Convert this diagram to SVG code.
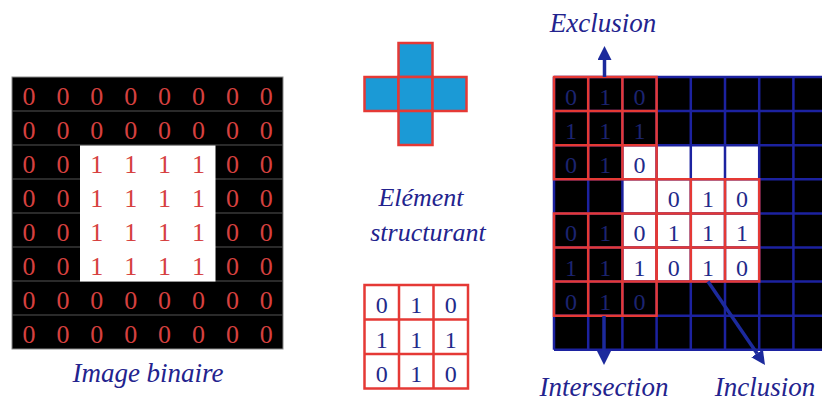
<svg xmlns="http://www.w3.org/2000/svg" width="822" height="403" viewBox="0 0 822 403">
<defs>
<style>
.red{stroke:#e53935;stroke-width:2.5;fill:none}
.blue{stroke:#1c22a0;stroke-width:2.5;fill:none}
.gray{stroke:#555;stroke-width:1}
.dl{font-size:26px;fill:#d6403f;text-anchor:middle}
.db{font-size:24px;fill:#1f2a8a;text-anchor:middle}
.dd{font-size:24px;fill:#1c2470;text-anchor:middle}
.lbl{font-style:italic;font-size:27px;fill:#23238e;text-anchor:middle}
.arrow{stroke:#1c2a9c;stroke-width:3.5;fill:none;marker-end:url(#ah)}
</style>
<marker id="ah" markerUnits="userSpaceOnUse" markerWidth="14" markerHeight="14" viewBox="0 0 14 14" refX="0" refY="7" orient="auto">
<path d="M0,0 L14,7 L0,14 z" fill="#1c2a9c"/>
</marker>
</defs>
<rect width="822" height="403" fill="#fff"/>

<!-- Binary image -->
<g id="binary-image">
<rect x="12" y="77" width="271" height="272" fill="#000" stroke="#888" stroke-width="1"/>
<path class="gray" d="M12,111H283M12,145H283M12,179H283M12,213H283M12,247H283M12,281H283M12,315H283"/>
<rect x="80" y="145.5" width="135.5" height="136" fill="#fff"/>
<g class="dl" font-family="Liberation Serif">
<text x="29" y="105">0</text><text x="62.9" y="105">0</text><text x="96.8" y="105">0</text><text x="130.7" y="105">0</text><text x="164.6" y="105">0</text><text x="198.5" y="105">0</text><text x="232.4" y="105">0</text><text x="266.3" y="105">0</text>
<text x="29" y="139">0</text><text x="62.9" y="139">0</text><text x="96.8" y="139">0</text><text x="130.7" y="139">0</text><text x="164.6" y="139">0</text><text x="198.5" y="139">0</text><text x="232.4" y="139">0</text><text x="266.3" y="139">0</text>
<text x="29" y="173">0</text><text x="62.9" y="173">0</text><text x="96.8" y="173">1</text><text x="130.7" y="173">1</text><text x="164.6" y="173">1</text><text x="198.5" y="173">1</text><text x="232.4" y="173">0</text><text x="266.3" y="173">0</text>
<text x="29" y="207">0</text><text x="62.9" y="207">0</text><text x="96.8" y="207">1</text><text x="130.7" y="207">1</text><text x="164.6" y="207">1</text><text x="198.5" y="207">1</text><text x="232.4" y="207">0</text><text x="266.3" y="207">0</text>
<text x="29" y="241">0</text><text x="62.9" y="241">0</text><text x="96.8" y="241">1</text><text x="130.7" y="241">1</text><text x="164.6" y="241">1</text><text x="198.5" y="241">1</text><text x="232.4" y="241">0</text><text x="266.3" y="241">0</text>
<text x="29" y="275">0</text><text x="62.9" y="275">0</text><text x="96.8" y="275">1</text><text x="130.7" y="275">1</text><text x="164.6" y="275">1</text><text x="198.5" y="275">1</text><text x="232.4" y="275">0</text><text x="266.3" y="275">0</text>
<text x="29" y="309">0</text><text x="62.9" y="309">0</text><text x="96.8" y="309">0</text><text x="130.7" y="309">0</text><text x="164.6" y="309">0</text><text x="198.5" y="309">0</text><text x="232.4" y="309">0</text><text x="266.3" y="309">0</text>
<text x="29" y="343">0</text><text x="62.9" y="343">0</text><text x="96.8" y="343">0</text><text x="130.7" y="343">0</text><text x="164.6" y="343">0</text><text x="198.5" y="343">0</text><text x="232.4" y="343">0</text><text x="266.3" y="343">0</text>
</g>
</g>

<!-- Structuring element (cross) -->
<g id="structuring-element-cross" fill="#1b9ad6" stroke="#e53935" stroke-width="2.5">
<rect x="398.5" y="43" width="34" height="34"/>
<rect x="364.5" y="77" width="34" height="34"/>
<rect x="398.5" y="77" width="34" height="34"/>
<rect x="432.5" y="77" width="34" height="34"/>
<rect x="398.5" y="111" width="34" height="34"/>
</g>

<!-- Structuring element (matrix) -->
<g id="structuring-element-matrix">
<rect x="364.5" y="285" width="103.5" height="103.5" fill="#fff"/>
<path class="red" d="M364.5,285H468V388.5H364.5Z M399,285V388.5 M433.5,285V388.5 M364.5,319.5H468 M364.5,354H468"/>
<g class="db" font-family="Liberation Serif">
<text x="381.75" y="313">0</text><text x="416.25" y="313">1</text><text x="450.75" y="313">0</text>
<text x="381.75" y="347.5">1</text><text x="416.25" y="347.5">1</text><text x="450.75" y="347.5">1</text>
<text x="381.75" y="381.5">0</text><text x="416.25" y="381.5">1</text><text x="450.75" y="381.5">0</text>
</g>
</g>

<!-- Result grid -->
<g id="result-grid">
<rect x="554" y="77" width="280" height="272.8" fill="#000"/>
<rect x="622.4" y="145.2" width="136.8" height="136.4" fill="#fff"/>
<path class="blue" d="M554,77V349.8M588.2,77V349.8M622.4,77V349.8M656.6,77V349.8M690.8,77V349.8M725,77V349.8M759.2,77V349.8M793.4,77V349.8
M554,77H822M554,111.1H822M554,145.2H822M554,179.3H822M554,213.4H822M554,247.5H822M554,281.6H822M554,315.7H822M554,349.8H822"/>
</g>

<g id="se-exclusion" font-family="Liberation Serif">
<path class="red" d="M554,77H656.6V179.3H554Z M588.2,77V179.3 M622.4,77V179.3 M554,111.1H656.6 M554,145.2H656.6"/>
<g class="dd">
<text x="571.1" y="105">0</text><text x="605.3" y="105">1</text><text x="639.5" y="105">0</text>
<text x="571.1" y="139.1">1</text><text x="605.3" y="139.1">1</text><text x="639.5" y="139.1">1</text>
<text x="571.1" y="173.2">0</text><text x="605.3" y="173.2">1</text>
</g>
<text class="db" x="639.5" y="173.2">0</text>
</g>

<g id="se-inclusion" font-family="Liberation Serif">
<path class="red" d="M656.6,179.3H759.2V281.6H656.6Z M690.8,179.3V281.6 M725,179.3V281.6 M656.6,213.4H759.2 M656.6,247.5H759.2"/>
<g class="db">
<text x="673.7" y="207.3">0</text><text x="707.9" y="207.3">1</text><text x="742.1" y="207.3">0</text>
<text x="673.7" y="241.4">1</text><text x="707.9" y="241.4">1</text><text x="742.1" y="241.4">1</text>
<text x="673.7" y="275.5">0</text><text x="707.9" y="275.5">1</text><text x="742.1" y="275.5">0</text>
</g>
</g>

<g id="se-intersection" font-family="Liberation Serif">
<path class="red" d="M554,213.4H656.6V315.7H554Z M588.2,213.4V315.7 M622.4,213.4V315.7 M554,247.5H656.6 M554,281.6H656.6"/>
<g class="dd">
<text x="571.1" y="241.4">0</text><text x="605.3" y="241.4">1</text>
<text x="571.1" y="275.5">1</text><text x="605.3" y="275.5">1</text>
<text x="571.1" y="309.6">0</text><text x="605.3" y="309.6">1</text><text x="639.5" y="309.6">0</text>
</g>
<g class="db">
<text x="639.5" y="241.4">0</text>
<text x="639.5" y="275.5">1</text>
</g>
</g>

<!-- Connectors -->
<g id="connectors">
<line class="arrow" x1="604.5" y1="77" x2="604.5" y2="60"/>
<line class="arrow" x1="604" y1="316" x2="604" y2="351"/>
<line class="arrow" x1="708" y1="281.6" x2="757.1" y2="353.4"/>
</g>

<g id="labels" font-family="Liberation Serif">
<text class="lbl" x="148" y="382">Image binaire</text>
<text class="lbl" x="421" y="206" style="font-size:26px">Elément</text>
<text class="lbl" x="428" y="241" style="font-size:26px">structurant</text>
<text class="lbl" x="603" y="32">Exclusion</text>
<text class="lbl" x="604" y="396">Intersection</text>
<text class="lbl" x="765" y="396">Inclusion</text>
</g>
</svg>
